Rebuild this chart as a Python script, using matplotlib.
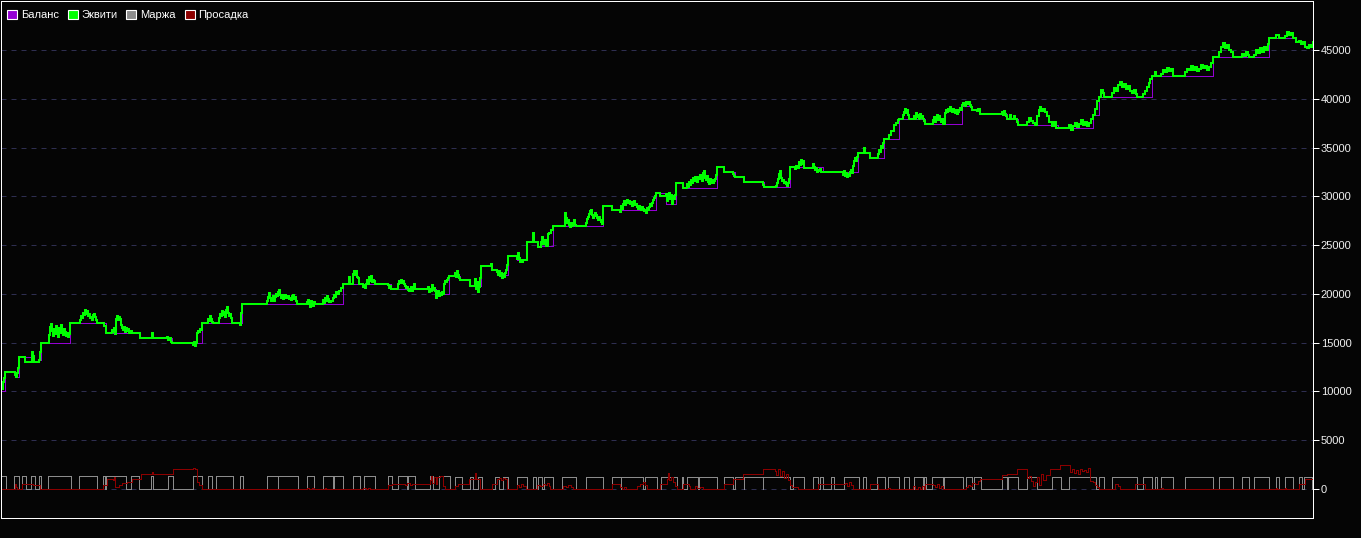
import numpy as np
import matplotlib
matplotlib.use("Agg")
import matplotlib.pyplot as plt
from matplotlib.patches import Patch

# Отчёт тестера: баланс, эквити, маржа, просадка (ось X - номер тика)

balance_steps = [
    (0, 10000), (5, 12000), (15, 11450), (19, 13530), (32, 12990), (39, 13200),
    (41, 14930), (70, 16980), (106, 15960), (140, 15450), (172, 14930),
    (202, 16980), (242, 18930), (343, 20980), (391, 20470), (436, 19960),
    (449, 21830), (460, 21430), (470, 20840), (481, 22860), (492, 22450),
    (500, 21930), (508, 23930), (517, 23470), (527, 25360), (538, 24900),
    (553, 26950), (603, 29000), (612, 28600), (656, 30380), (666, 29210),
    (676, 31400), (683, 30880), (717, 32970), (724, 32460), (735, 31950),
    (744, 31440), (764, 30920), (790, 32970), (823, 32490), (858, 34400),
    (870, 33900), (884, 35850), (899, 37900), (925, 37400), (962, 39300),
    (972, 38900), (980, 38440), (1007, 37900), (1018, 37300), (1058, 37000),
    (1093, 38300), (1099, 40200), (1152, 42300), (1213, 44300), (1269, 46200),
    (1296, 45800), (1305, 45350), (1313, 45350),
]

equity_pts = [
    (0, 10000), (1, 10400), (2, 10200), (3, 11000), (4, 11400), (5, 12000),
    (15, 11700), (16, 11450), (17, 11900), (18, 12400), (19, 13530),
    (25, 13000), (32, 14000), (33, 13600), (34, 13000), (39, 13200), (40, 14000), (41, 14930),
    (49, 15800), (50, 16600), (51, 16900), (52, 16200), (53, 15700), (54, 16400),
    (55, 15900), (56, 16700), (57, 16100), (58, 15600), (59, 16500), (60, 16000),
    (61, 16800), (62, 16300), (63, 15800), (64, 16400), (65, 16100), (66, 15700),
    (67, 16000), (68, 15600), (69, 15900), (70, 16980),
    (80, 17300), (81, 17700), (82, 17500), (83, 18000), (84, 17800), (85, 18350),
    (86, 17900), (87, 18200), (88, 17700), (89, 17900), (90, 17500), (91, 17600),
    (92, 17300), (93, 17800), (94, 17900), (95, 17600), (96, 17300), (97, 16980),
    (104, 16700), (106, 15960),
    (112, 16300), (113, 16100), (114, 16500), (115, 15900), (116, 17400), (117, 17700),
    (118, 17300), (119, 17600), (120, 17400), (121, 16800), (122, 16500), (123, 16300),
    (124, 16600), (125, 16100), (126, 16500), (127, 16200), (128, 16400), (129, 16000),
    (130, 16200), (132, 15960),
    (140, 15450), (152, 15960), (153, 15450), (167, 15600), (168, 15300), (169, 15450),
    (171, 15100), (172, 14930),
    (193, 14800), (194, 15100), (195, 14700), (196, 15000), (197, 16000), (198, 16200),
    (199, 16100), (200, 16400), (201, 16300), (202, 16980),
    (208, 17400), (209, 17200), (210, 17700), (211, 17400), (212, 17100), (213, 16980),
    (219, 17500), (220, 17900), (221, 17700), (222, 18200), (223, 17800), (224, 18100),
    (225, 17600), (226, 18300), (227, 18700), (228, 18000), (229, 17700), (230, 17900),
    (231, 17500), (232, 16980), (240, 16800), (241, 18000), (242, 18930),
    (267, 19300), (268, 19700), (269, 20100), (270, 19600), (271, 19300), (272, 19500),
    (273, 19800), (274, 19300), (275, 19700), (276, 20000), (277, 19800), (278, 20200),
    (279, 20400), (280, 19900), (281, 19600), (282, 19900), (283, 19500), (284, 19700),
    (285, 19900), (286, 19600), (287, 19700), (288, 19800), (289, 19500), (290, 19600),
    (291, 19400), (292, 19800), (293, 19900), (294, 19500), (295, 19700), (296, 19300),
    (297, 18930),
    (307, 19200), (308, 19400), (309, 19000), (310, 18700), (311, 19300), (312, 19100),
    (313, 18800), (314, 19200), (315, 18930),
    (323, 19400), (324, 19100), (325, 19600), (326, 19300), (327, 19800), (328, 19500),
    (329, 19200), (331, 19300), (333, 19600), (334, 19900), (335, 19700), (336, 20200),
    (337, 20000), (339, 20300), (341, 20600), (343, 20980),
    (349, 21700), (350, 20980), (353, 22000), (354, 22350), (355, 21900), (356, 22300),
    (357, 21700), (358, 21600), (359, 20980), (363, 20700), (364, 20900), (365, 20600),
    (366, 21000), (367, 21400), (368, 20980), (369, 21700), (370, 21300), (371, 21800),
    (372, 21200), (373, 21400), (374, 21300), (375, 20980),
    (388, 20900), (389, 20600), (390, 20800), (391, 20470),
    (398, 21000), (399, 21300), (400, 21100), (401, 21400), (402, 21100), (403, 21300),
    (404, 21000), (405, 20800), (406, 20600), (407, 20700), (408, 20400), (409, 20300),
    (410, 20500), (411, 20700), (412, 20300), (413, 20600), (414, 21000), (415, 20470),
    (428, 20700), (429, 20200), (430, 20500), (431, 20300), (432, 20900), (433, 20400),
    (434, 20600), (435, 20300), (436, 19550), (437, 19960), (438, 20300), (439, 19800),
    (440, 20100), (441, 19900), (442, 20200), (443, 20000), (444, 21000), (445, 21300),
    (446, 21200), (447, 21400), (448, 21600), (449, 21830),
    (455, 22100), (456, 21700), (457, 22300), (458, 21900), (459, 21600), (460, 21430),
    (470, 20840), (475, 21500), (476, 20500), (477, 21200), (478, 20200), (479, 20700),
    (480, 21600), (481, 22860), (491, 23100), (492, 22450),
    (497, 22200), (498, 21900), (499, 22300), (500, 21800), (501, 22100), (502, 21600),
    (503, 22000), (504, 21700), (505, 22100), (506, 22400), (507, 23000), (508, 23930),
    (517, 23600), (518, 24200), (519, 23700), (520, 23300), (521, 23500), (522, 23300),
    (523, 23470), (527, 25360), (533, 26230), (534, 25360), (538, 24830),
    (541, 25300), (542, 25800), (543, 25100), (545, 25500), (546, 24900), (548, 26100),
    (549, 26200), (551, 26500), (553, 26950),
    (565, 28300), (566, 27800), (567, 27300), (568, 27600), (569, 27100), (570, 26900),
    (571, 27300), (572, 27000), (573, 27200), (574, 27600), (575, 27100), (576, 26950),
    (586, 27300), (587, 27700), (588, 27900), (589, 28200), (590, 28500), (591, 28600),
    (592, 28100), (593, 27800), (594, 28000), (595, 28300), (596, 28100), (597, 27800),
    (598, 27600), (599, 27900), (600, 27600), (601, 27400), (602, 27200), (603, 29000),
    (612, 28600),
    (620, 28400), (621, 29000), (622, 28700), (623, 29200), (624, 29500), (625, 29100),
    (626, 29300), (627, 29600), (628, 29300), (629, 29500), (630, 29200), (631, 29400),
    (632, 29000), (633, 29300), (634, 29500), (635, 29100), (636, 29200), (637, 28900),
    (638, 28700), (639, 29000), (640, 28800), (641, 28600), (642, 28900), (643, 28700),
    (644, 28500), (645, 28600), (646, 28300), (647, 28800), (648, 28600), (649, 28900),
    (650, 29200), (651, 29000), (652, 29300), (653, 29600), (654, 29800), (655, 30000),
    (656, 30380), (660, 30030),
    (666, 30200), (667, 29500), (668, 29900), (669, 30300), (670, 29700), (671, 30100),
    (672, 29200), (673, 30000), (674, 29700), (675, 30100), (676, 31400), (683, 30880),
    (687, 31300), (688, 31000), (689, 31500), (690, 31200), (691, 31700), (692, 31400),
    (693, 31900), (694, 31600), (695, 32000), (696, 31700), (697, 31500), (698, 32000),
    (699, 31800), (700, 32200), (701, 32000), (702, 31600), (703, 32400), (704, 32630),
    (705, 31900), (706, 31700), (707, 32100), (708, 31500), (709, 31300), (710, 31800),
    (711, 31400), (712, 31700), (713, 31400), (714, 31600), (715, 31800), (716, 32200),
    (717, 32970), (724, 32460), (733, 32300), (734, 32100), (735, 31950), (744, 31440),
    (763, 31200), (764, 30920),
    (776, 31100), (777, 31400), (778, 31800), (779, 32300), (780, 32600), (781, 31900),
    (782, 31600), (783, 31700), (784, 31400), (785, 31500), (786, 31300), (787, 31100),
    (788, 31400), (789, 31800), (790, 32970),
    (795, 32800), (796, 33100), (797, 32900), (799, 33500), (800, 33200), (801, 33700),
    (802, 33300), (803, 33600), (804, 32870),
    (813, 33300), (814, 33000), (815, 32700), (816, 32900), (817, 32500), (818, 32700),
    (819, 32600), (820, 32800), (821, 32500), (823, 32490),
    (843, 32200), (844, 32600), (845, 32100), (846, 32400), (847, 32000), (848, 32300),
    (849, 32100), (850, 32500), (851, 32700), (852, 32400), (853, 33100), (854, 33600),
    (855, 33900), (856, 33600), (857, 34000), (858, 34400), (864, 35000), (865, 34400),
    (870, 33900),
    (878, 34300), (879, 34800), (880, 34500), (881, 35200), (882, 35000), (883, 35500),
    (884, 35850), (889, 36300), (891, 36700), (894, 37300), (896, 37500), (898, 37800),
    (899, 37900), (903, 38300), (904, 38600), (905, 38950), (906, 38500), (907, 38800),
    (908, 38300), (909, 37900),
    (914, 38200), (915, 37900), (916, 38500), (917, 38100), (918, 38300), (919, 37900),
    (920, 38400), (921, 38000), (922, 38200), (923, 37900), (924, 37700), (925, 37400),
    (933, 37800), (934, 38100), (935, 37600), (936, 37900), (937, 38300), (938, 37800),
    (939, 38200), (940, 37900), (941, 37600), (942, 37900), (943, 37400),
    (945, 38500), (946, 38900), (947, 38600), (948, 39000), (949, 38700), (950, 39200),
    (951, 38800), (952, 38600), (953, 39000), (954, 38700), (955, 38500), (956, 38800),
    (957, 38400), (958, 38600), (959, 38900), (960, 39100), (961, 38800), (962, 39400),
    (963, 39600), (965, 39300), (966, 39700), (968, 39500), (969, 39700), (970, 39400),
    (971, 39200), (972, 38900), (977, 38700), (978, 39000), (980, 38440),
    (1002, 38600), (1003, 38300), (1004, 38700), (1005, 38400), (1006, 38200),
    (1007, 37900), (1010, 38300), (1011, 37900), (1014, 38200), (1015, 37900),
    (1017, 37600), (1018, 37300),
    (1027, 37600), (1029, 38000), (1031, 37700), (1033, 37500), (1035, 37300),
    (1037, 38200), (1039, 38900), (1040, 39200), (1041, 38700), (1043, 39000),
    (1045, 38600), (1047, 38200), (1049, 37600), (1052, 37200), (1054, 37600),
    (1056, 37000),
    (1069, 37300), (1071, 36800), (1073, 37200), (1075, 37500), (1077, 37100),
    (1079, 37400), (1081, 37800), (1083, 37300), (1085, 37600), (1087, 37200),
    (1089, 37500), (1091, 37900), (1093, 38300), (1095, 39000), (1097, 39800),
    (1099, 40200), (1101, 40900), (1103, 40600), (1104, 40200),
    (1112, 40600), (1114, 41100), (1116, 40800), (1118, 41400), (1120, 41700),
    (1122, 41200), (1124, 41500), (1126, 41000), (1128, 41300), (1130, 40800),
    (1132, 40600), (1134, 40900), (1136, 40500), (1137, 40200),
    (1143, 40500), (1145, 40800), (1147, 41200), (1149, 41600), (1150, 42000),
    (1152, 42300), (1155, 42700), (1156, 42300),
    (1161, 42500), (1163, 43000), (1165, 42700), (1167, 43200), (1169, 42800),
    (1171, 43100), (1173, 42300),
    (1185, 42700), (1187, 43100), (1189, 42900), (1191, 43400), (1193, 43000),
    (1195, 43300), (1197, 42800), (1199, 43100), (1201, 43500), (1203, 43200),
    (1205, 43400), (1207, 43000), (1209, 43300), (1211, 43700), (1213, 44300),
    (1219, 44800), (1221, 45300), (1223, 45700), (1225, 45200), (1227, 45500),
    (1229, 45000), (1231, 44800), (1233, 44300),
    (1242, 44600), (1244, 44400), (1246, 44800), (1248, 44500), (1249, 44300),
    (1254, 44500), (1256, 45000), (1258, 44700), (1260, 45200), (1262, 44800),
    (1264, 45300), (1266, 45000), (1268, 45600), (1269, 46200),
    (1276, 46500), (1279, 46200),
    (1285, 46400), (1287, 46800), (1289, 46500), (1291, 46700), (1293, 46200),
    (1296, 45800), (1299, 45900), (1301, 45600), (1303, 45800), (1305, 45350),
    (1307, 45200), (1309, 45500), (1311, 45300), (1313, 45800),
]

# открытые позиции: (начало, конец, маржа)
margin_trades = [
    (1, 6, 1330), (14, 19, 1330), (22, 26, 1330), (31, 35, 1330), (39, 41, 1330),
    (48, 71, 1330), (79, 97, 1330), (103, 105, 1330), (106, 126, 1330), (131, 139, 1330),
    (151, 153, 1330), (168, 173, 1330), (193, 202, 1330), (208, 212, 1330), (216, 233, 1330),
    (240, 243, 1330), (267, 278, 1330), (278, 298, 1330), (307, 314, 1330), (323, 333, 1330),
    (334, 343, 1330), (353, 360, 1330), (364, 375, 1330), (388, 392, 1330), (398, 407, 1330),
    (408, 415, 1330), (430, 433, 1330), (439, 450, 1330), (455, 462, 1200), (470, 473, 1200),
    (478, 482, 1200), (495, 499, 1200), (503, 508, 1200), (517, 527, 1200), (533, 536, 1200),
    (538, 542, 1200), (544, 553, 1200), (562, 576, 1200), (586, 603, 1200), (612, 621, 1200),
    (621, 643, 1200), (645, 657, 1200), (661, 677, 1200), (682, 683, 1200), (687, 698, 1200),
    (699, 717, 1200), (724, 733, 1200), (735, 744, 1200), (744, 763, 1200), (763, 790, 1200),
    (793, 804, 1200), (813, 818, 1200), (820, 823, 1200), (831, 834, 1200), (844, 859, 1200),
    (863, 866, 1200), (877, 885, 1200), (888, 899, 1200), (904, 909, 1200), (914, 923, 1200),
    (924, 926, 1200), (932, 943, 1200), (944, 963, 1200), (966, 972, 1200), (974, 981, 1200),
    (1002, 1007, 1200), (1008, 1018, 1200), (1027, 1037, 1200), (1052, 1061, 1200),
    (1069, 1096, 1200), (1099, 1104, 1200), (1112, 1137, 1200), (1143, 1152, 1200),
    (1155, 1157, 1200), (1161, 1173, 1200), (1185, 1213, 1200), (1219, 1233, 1200),
    (1242, 1249, 1200), (1254, 1269, 1200), (1276, 1279, 1200), (1285, 1293, 1200),
    (1299, 1302, 1200), (1304, 1312, 1200),
]

drawdown_pts = [
    (0, 0), (14, 0), (15, 500), (16, 200), (17, 0), (22, 500), (33, 400), (40, 0),
    (103, 400), (107, 1000), (113, 900), (114, 1200), (115, 200), (119, 400), (122, 600),
    (127, 750), (132, 1000), (141, 1500), (152, 1700), (153, 1500), (173, 2000),
    (193, 2200), (195, 2100), (197, 700), (199, 400), (202, 0),
    (307, 100), (309, 0), (312, 150), (314, 0), (325, 100), (326, 0),
    (363, 150), (366, 50), (368, 150), (370, 0),
    (388, 400), (392, 500), (405, 400), (407, 600), (410, 400), (412, 550), (414, 500),
    (430, 900), (431, 1300), (432, 600), (434, 1200), (436, 500), (437, 1200),
    (440, 1300), (443, 300), (445, 0),
    (455, 300), (458, 500), (469, 1000), (475, 1600), (476, 1000), (480, 0),
    (492, 500), (497, 1000), (499, 1100), (501, 900), (503, 1100), (505, 1000), (507, 0),
    (517, 400), (519, 200), (521, 500), (523, 300), (526, 0),
    (537, 400), (540, 300), (543, 500), (545, 400), (547, 600), (549, 300), (550, 0),
    (563, 300), (566, 200), (568, 400), (571, 200), (573, 0),
    (612, 500), (620, 200), (622, 0), (624, 200), (626, 0),
    (637, 300), (640, 500), (643, 700), (645, 400), (647, 0),
    (660, 500), (667, 1000), (668, 1600), (669, 900), (671, 1200), (673, 700),
    (675, 300), (677, 0),
    (683, 500), (689, 300), (690, 0), (695, 300), (697, 100), (700, 200), (703, 0),
    (724, 500), (733, 1000), (743, 1500), (763, 2050), (775, 1800), (776, 1400),
    (778, 2000), (780, 1300), (782, 1800), (784, 1100), (786, 1500), (788, 900),
    (790, 400), (792, 200), (798, 0),
    (818, 500), (845, 600), (847, 300), (849, 700), (851, 400), (853, 0),
    (870, 500), (878, 0), (888, 150), (890, 0),
    (913, 300), (915, 0), (918, 250), (920, 0), (922, 300), (924, 0),
    (925, 500), (933, 400), (935, 200), (937, 500), (939, 100), (941, 300), (943, 0),
    (966, 200), (968, 400), (970, 300), (972, 600), (975, 500), (978, 800),
    (980, 1000), (1002, 1400), (1007, 1500), (1017, 2000), (1027, 1100), (1029, 1300),
    (1031, 800), (1033, 300), (1035, 700), (1037, 1200), (1039, 400), (1041, 1500),
    (1043, 900), (1046, 1400), (1050, 2000), (1060, 2500), (1070, 1700), (1072, 2000),
    (1074, 1600), (1076, 1900), (1078, 1500), (1080, 2100), (1082, 1800), (1084, 1900),
    (1086, 1700), (1088, 2200), (1090, 800), (1093, 700), (1095, 400), (1097, 200),
    (1099, 0),
    (1115, 500), (1118, 300), (1120, 0), (1135, 500), (1145, 0), (1161, 150), (1163, 0),
    (1276, 100), (1277, 0), (1285, 100), (1286, 0),
    (1299, 500), (1305, 1000), (1313, 1000),
]

y_ticks = [0, 5000, 10000, 15000, 20000, 25000, 30000, 35000, 40000, 45000]
legend_labels = ["Баланс", "Эквити", "Маржа", "Просадка"]

BG = "#050505"
C_BAL = "#9400d3"
C_EQ = "#00ff00"
C_MARGIN = "#8c8c8c"
C_DD = "#8c0000"
LW = 0.72   # 1 пиксель при dpi=100

plt.rcParams["font.family"] = ["Liberation Sans", "DejaVu Sans"]

# маржа -> ступенчатый ряд
mx, my = [0], [0]
for start, end, m in margin_trades:
    mx += [start, end]
    my += [m, 0]
mx.append(1313)
my.append(0)

bx, by = zip(*balance_steps)
ex, ey = zip(*equity_pts)
dx, dy = zip(*drawdown_pts)

W, H = 1361, 538
fig = plt.figure(figsize=(W / 100, H / 100), dpi=100, facecolor=BG)
ax = fig.add_axes([1 / W, 20 / H, 1312 / W, 517 / H], facecolor=BG)

ax.set_xlim(1, 1313)
ax.set_ylim(-2973, 50023)

ax.set_yticks(y_ticks)
ax.yaxis.grid(True, color="#2e2e50", linestyle=(0, (5, 5)), linewidth=LW)
ax.set_axisbelow(True)
ax.set_xticks([])

ax.plot(mx, my, drawstyle="steps-post", color=C_MARGIN, lw=LW, antialiased=False)
ax.plot(dx, dy, drawstyle="steps-post", color=C_DD, lw=LW, antialiased=False)
ax.plot(bx, by, drawstyle="steps-post", color=C_BAL, lw=LW, antialiased=False)
ax.plot(ex, ey, drawstyle="steps-post", color=C_EQ, lw=LW, antialiased=False)

for s in ax.spines.values():
    s.set_color("white")
    s.set_linewidth(LW)

ax.yaxis.tick_right()
ax.tick_params(axis="y", colors="white", labelcolor="#f0f0f0", length=4,
               width=LW, labelsize=8, pad=1.5)

handles = [Patch(facecolor=c, edgecolor="white", linewidth=0.8)
           for c in [C_BAL, C_EQ, C_MARGIN, C_DD]]
leg = ax.legend(handles, legend_labels, loc="upper left", ncol=4, frameon=False,
                fontsize=8, handlelength=0.9, handleheight=0.9, handletextpad=0.35,
                columnspacing=0.8, borderaxespad=0.0,
                bbox_to_anchor=(0.001, 0.992))
for t in leg.get_texts():
    t.set_color("white")

fig.savefig("out.png", dpi=100, facecolor=BG)
